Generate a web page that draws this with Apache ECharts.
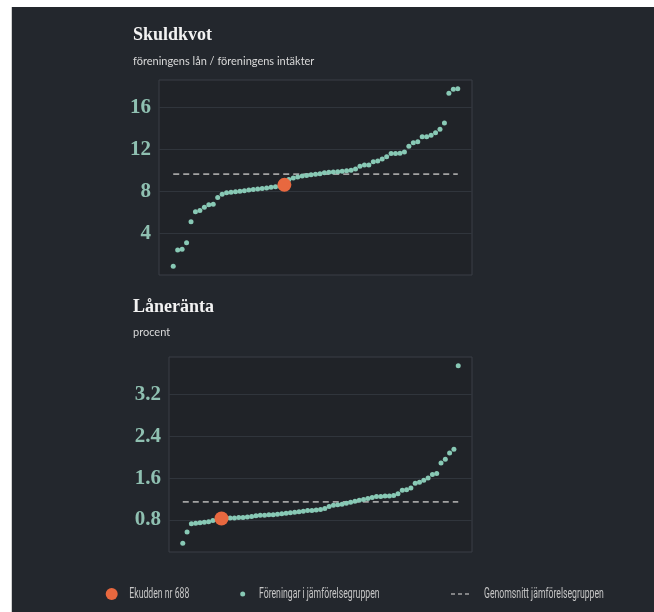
<!DOCTYPE html>
<html>
<head>
<meta charset="utf-8">
<script src="https://cdn.jsdelivr.net/npm/echarts@6/dist/echarts.min.js"></script>
<style>
  html, body { margin: 0; padding: 0; background: #ffffff; }
  #panel { position: absolute; left: 11px; top: 7px; width: 643px; height: 605px; background: #23272d; border-left: 1px solid #d0d0d0; }
  #chart { position: absolute; left: 0; top: 0; width: 654px; height: 612px; }
</style>
</head>
<body>
<div id="panel"></div>
<div id="chart"></div>
<script>
// ---- data ----
const skuldkvot = [0.86, 2.4, 2.47, 3.08, 5.08, 6.03, 6.15, 6.47, 6.7, 6.76, 7.4, 7.71,
  7.85, 7.9, 7.95, 8.0, 8.05, 8.1, 8.15, 8.2, 8.25, 8.3, 8.37, 8.42, 8.47, 8.6,
  9.1, 9.25, 9.35, 9.45, 9.5, 9.55, 9.6, 9.65, 9.75, 9.8, 9.82, 9.85, 9.9, 9.95, 10.0, 10.1,
  10.38, 10.48, 10.5, 10.79, 10.86, 11.05, 11.27, 11.58, 11.58, 11.6, 11.74,
  12.28, 12.6, 12.7, 13.17, 13.17, 13.33, 13.55, 13.9, 14.48, 17.33, 17.7, 17.74];
const laneranta = [0.36, 0.57, 0.73, 0.74, 0.75, 0.76, 0.77, 0.79, 0.81, 0.83,
  0.83, 0.84, 0.84, 0.85, 0.85, 0.86, 0.87, 0.88, 0.89, 0.89,
  0.90, 0.90, 0.91, 0.92, 0.93, 0.94, 0.95, 0.96, 0.97, 0.98,
  0.98, 0.99, 1.0, 1.02, 1.06, 1.08, 1.09, 1.10, 1.12, 1.14,
  1.16, 1.18, 1.19, 1.21, 1.23, 1.25, 1.25, 1.26, 1.26, 1.27,
  1.30, 1.37, 1.38, 1.41, 1.50, 1.52, 1.56, 1.60, 1.67, 1.69,
  1.89, 1.96, 2.08, 2.15, 3.74];
const ekuddenSkuld = [25, 8.6];      // [rank, value]
const ekuddenRanta = [9, 0.83];
const avgSkuld = 9.62;
const avgRanta = 1.145;
const skuldTicks = [4, 8, 12, 16];
const rantaTicks = [0.8, 1.6, 2.4, 3.2];

const titles = ['Skuldkvot', 'Låneränta'];
const subtitles = ['föreningens lån / föreningens intäkter', 'procent'];
const legendNames = ['Ekudden nr 688', 'Föreningar i jämförelsegruppen', 'Genomsnitt jämförelsegruppen'];

// ---- styling ----
const TEAL = '#88c9b5';
const ORANGE = '#e8683f';
const DASH = '#a3a3a3';
const LABEL = '#8fc0b1';
const LEG_TEXT = '#c6c6c6';

function padExtent(arr) {
  const mn = Math.min.apply(null, arr), mx = Math.max.apply(null, arr);
  const p = (mx - mn) * 0.05;
  return [mn - p, mx + p];
}
function pts(arr) { return arr.map((v, i) => [i, v]); }

const n = skuldkvot.length;
const xPad = (n - 1) * 0.05;
const e1 = padExtent(skuldkvot);
const e2 = padExtent(laneranta);

function yAxis(gi, ext, ticks) {
  return {
    type: 'value', gridIndex: gi, min: ext[0], max: ext[1],
    axisLine: { show: false },
    axisTick: { show: false, customValues: ticks },
    axisLabel: {
      customValues: ticks, margin: 8, color: LABEL,
      fontFamily: 'Liberation Serif', fontWeight: 'bold', fontSize: 21
    },
    splitLine: { show: true, lineStyle: { color: '#30353c', width: 1 } }
  };
}
function xAxis(gi) {
  return { type: 'value', gridIndex: gi, min: -xPad, max: n - 1 + xPad, show: false, splitLine: { show: false } };
}

// legend drawn as graphic elements (condensed text)
const LEG_Y = 594;
const legFont = { fontFamily: 'Roboto', fontSize: 14, fill: LEG_TEXT };
function legText(x, t) {
  return { type: 'text', x: x, y: LEG_Y, scaleX: 0.62, scaleY: 1,
    style: Object.assign({ text: t, verticalAlign: 'middle', align: 'left' }, legFont) };
}
const legendGraphic = [
  { type: 'circle', shape: { cx: 111.7, cy: LEG_Y, r: 6 }, style: { fill: ORANGE } },
  legText(129.3, legendNames[0]),
  { type: 'circle', shape: { cx: 242.7, cy: LEG_Y, r: 2.5 }, style: { fill: TEAL } },
  legText(259, legendNames[1]),
  { type: 'line', shape: { x1: 451, y1: LEG_Y, x2: 469.5, y2: LEG_Y }, style: { stroke: DASH, lineWidth: 1.6, lineDash: [4, 3] } },
  legText(484, legendNames[2])
];

const titleFont = { color: '#f2f2f2', fontFamily: 'Liberation Serif', fontWeight: 'bold', fontSize: 18 };
const subFont = { color: '#d9d9d9', fontFamily: 'Lato', fontWeight: 'normal', fontSize: 11 };

const option = {
  backgroundColor: 'transparent',
  animation: false,
  title: [
    { text: titles[0], left: 133, top: 26, padding: 0, textStyle: titleFont },
    { text: subtitles[0], left: 133, top: 56, padding: 0, textStyle: subFont },
    { text: titles[1], left: 133, top: 298, padding: 0, textStyle: titleFont },
    { text: subtitles[1], left: 133, top: 327, padding: 0, textStyle: subFont }
  ],
  grid: [
    { left: 159, top: 80, width: 313, height: 195, show: true, backgroundColor: '#202328', borderColor: '#3a3f46', borderWidth: 1 },
    { left: 169, top: 357, width: 303, height: 195, show: true, backgroundColor: '#202328', borderColor: '#3a3f46', borderWidth: 1 }
  ],
  xAxis: [xAxis(0), xAxis(1)],
  yAxis: [yAxis(0, e1, skuldTicks), yAxis(1, e2, rantaTicks)],
  graphic: legendGraphic,
  series: [
    { name: legendNames[2], type: 'line', xAxisIndex: 0, yAxisIndex: 0, symbol: 'none', silent: true,
      data: [[0, avgSkuld], [n - 1, avgSkuld]], lineStyle: { color: DASH, width: 1.8, type: [6, 4] }, itemStyle: { color: DASH }, z: 2 },
    { name: legendNames[1], type: 'scatter', xAxisIndex: 0, yAxisIndex: 0, symbolSize: 5,
      data: pts(skuldkvot), itemStyle: { color: TEAL, opacity: 1 }, z: 3 },
    { name: legendNames[0], type: 'scatter', xAxisIndex: 0, yAxisIndex: 0, symbolSize: 14,
      data: [ekuddenSkuld], itemStyle: { color: ORANGE, opacity: 1 }, z: 4 },

    { name: legendNames[2], type: 'line', xAxisIndex: 1, yAxisIndex: 1, symbol: 'none', silent: true,
      data: [[0, avgRanta], [n - 1, avgRanta]], lineStyle: { color: DASH, width: 1.8, type: [6, 4] }, itemStyle: { color: DASH }, z: 2 },
    { name: legendNames[1], type: 'scatter', xAxisIndex: 1, yAxisIndex: 1, symbolSize: 5,
      data: pts(laneranta), itemStyle: { color: TEAL, opacity: 1 }, z: 3 },
    { name: legendNames[0], type: 'scatter', xAxisIndex: 1, yAxisIndex: 1, symbolSize: 14,
      data: [ekuddenRanta], itemStyle: { color: ORANGE, opacity: 1 }, z: 4 }
  ]
};

const chart = echarts.init(document.getElementById('chart'), null, { renderer: 'canvas' });
chart.setOption(option);
</script>
</body>
</html>
